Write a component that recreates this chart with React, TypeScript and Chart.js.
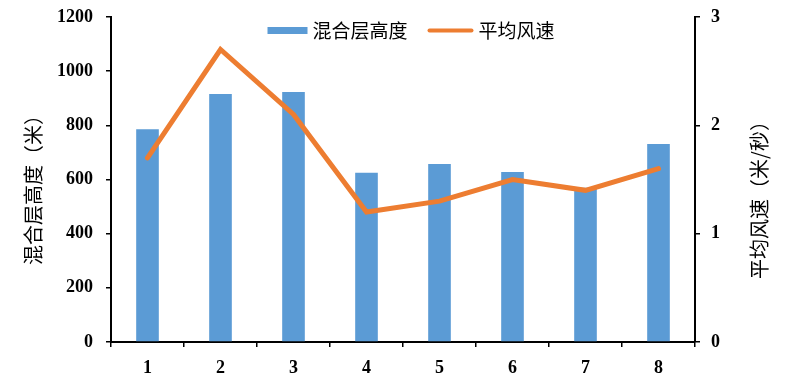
import React, { useEffect, useRef } from "react";
import { Chart, registerables } from "chart.js";

Chart.register(...registerables);

const categories = ["1", "2", "3", "4", "5", "6", "7", "8"];
const mixingHeight = [786, 916, 923, 625, 657, 628, 570, 731];
const windSpeed = [1.7, 2.7, 2.1, 1.2, 1.3, 1.5, 1.4, 1.6];
const barLabel = "混合层高度";
const lineLabel = "平均风速";
const leftTitle = "混合层高度（米）";
const rightTitle = "平均风速（米/秒）";

const BLUE = "#5B9BD5";
const ORANGE = "#ED7D31";
const TICK_FONT = "'Times New Roman', 'Liberation Serif', serif";
const CJK_FONT = "'Noto Sans CJK SC', 'Noto Sans', sans-serif";
const TICK_SIZE = 18;

const overlayPlugin = {
  id: "overlay",
  afterDraw(chart: any) {
    const { ctx, chartArea } = chart;
    ctx.save();
    // axis titles
    ctx.fillStyle = "#000";
    ctx.font = `20px ${CJK_FONT}`;
    ctx.textAlign = "center";
    ctx.textBaseline = "middle";
    ctx.save();
    ctx.translate(chartArea.left - 78, chartArea.top + 168);
    ctx.rotate(-Math.PI / 2);
    ctx.fillText(leftTitle, 0, 0);
    ctx.restore();
    ctx.save();
    ctx.translate(chartArea.right + 64, chartArea.top + 178);
    ctx.rotate(-Math.PI / 2);
    ctx.fillText(rightTitle, 0, 0);
    ctx.restore();

    // legend
    ctx.font = `19px ${CJK_FONT}`;
    ctx.textAlign = "left";
    const w1 = ctx.measureText(barLabel).width;
    const w2 = ctx.measureText(lineLabel).width;
    const boxW = 40;
    const lineW = 46;
    const gap = 5;
    const itemGap = 20;
    const total = boxW + gap + w1 + itemGap + lineW + gap + w2;
    const cx = (chartArea.left + chartArea.right) / 2 + 8;
    const cy = chartArea.top + 13.5;
    let x = cx - total / 2;
    ctx.fillStyle = BLUE;
    ctx.fillRect(x, cy - 3.5, boxW, 7);
    x += boxW + gap;
    ctx.fillStyle = "#000";
    ctx.fillText(barLabel, x, cy);
    x += w1 + itemGap;
    ctx.strokeStyle = ORANGE;
    ctx.lineWidth = 4;
    ctx.lineCap = "round";
    ctx.beginPath();
    ctx.moveTo(x + 2, cy);
    ctx.lineTo(x + lineW - 2, cy);
    ctx.stroke();
    x += lineW + gap;
    ctx.fillStyle = "#000";
    ctx.fillText(lineLabel, x, cy);
    ctx.restore();
  },
};

const axisGrid = {
  drawOnChartArea: false,
  drawTicks: true,
  tickLength: 5,
  color: "#000",
  lineWidth: 1.5,
};
const axisBorder = { display: true, color: "#000", width: 2 };
const tickFont = { family: TICK_FONT, size: TICK_SIZE, weight: "bold" };

export default function App() {
  const ref = useRef<HTMLCanvasElement | null>(null);
  useEffect(() => {
    if (!ref.current) return;
    const chart = new Chart(ref.current, {
      type: "bar",
      data: {
        labels: categories,
        datasets: [
          {
            type: "bar",
            label: barLabel,
            data: mixingHeight,
            backgroundColor: BLUE,
            borderWidth: 0,
            barPercentage: 0.31,
            categoryPercentage: 1,
            yAxisID: "y",
            order: 1,
          } as any,
          {
            type: "line",
            label: lineLabel,
            data: windSpeed,
            borderColor: ORANGE,
            backgroundColor: ORANGE,
            borderWidth: 5,
            pointRadius: 0,
            tension: 0,
            borderCapStyle: "round",
            borderJoinStyle: "miter",
            yAxisID: "y1",
            order: 0,
          } as any,
        ],
      },
      options: {
        responsive: false,
        animation: false,
        devicePixelRatio: 1,
        layout: { padding: { top: 17, left: 0, right: 0, bottom: 0 } },
        plugins: {
          legend: { display: false },
          tooltip: { enabled: false },
        },
        scales: {
          x: {
            offset: true,
            grid: { ...axisGrid, offset: true },
            border: axisBorder,
            ticks: { color: "#000", padding: 11, font: tickFont },
            afterFit: (s: any) => {
              s.height = 49;
            },
          },
          y: {
            position: "left",
            min: 0,
            max: 1200,
            ticks: {
              stepSize: 200,
              color: "#000",
              padding: 13,
              font: tickFont,
              callback: (v: any) => String(v),
            },
            grid: axisGrid,
            border: axisBorder,
            afterFit: (s: any) => {
              s.width = 111;
              s.paddingTop = 0;
              s.paddingBottom = 0;
            },
          },
          y1: {
            position: "right",
            min: 0,
            max: 3,
            ticks: {
              stepSize: 1,
              color: "#000",
              padding: 11,
              font: tickFont,
              callback: (v: any) => String(v),
            },
            grid: axisGrid,
            border: axisBorder,
            afterFit: (s: any) => {
              s.width = 92;
              s.paddingTop = 0;
              s.paddingBottom = 0;
            },
          },
        },
      } as any,
      plugins: [overlayPlugin],
    });
    return () => chart.destroy();
  }, []);
  return (
    <div style={{ position: "absolute", left: 0, top: 0, width: 787, height: 391, background: "#fff" }}>
      <canvas ref={ref} width={787} height={391} />
    </div>
  );
}
